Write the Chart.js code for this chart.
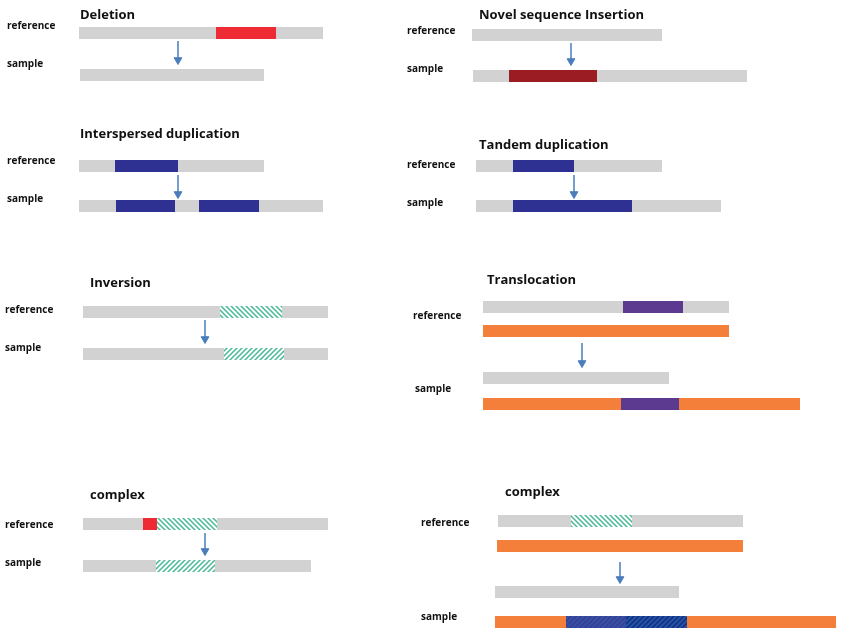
<!DOCTYPE html>
<html lang="en">
<head>
  <meta charset="UTF-8" />
  <title>Structural variant types</title>
  <script src="https://cdn.jsdelivr.net/npm/chart.js"></script>
  <style>
    html, body { margin: 0; padding: 0; background: #fff; }
    .wrap { width: 850px; height: 630px; }
  </style>
</head>
<body>
  <div class="wrap"><canvas id="svChart" width="850" height="630"></canvas></div>

  <script>
    // panel titles
    const panelTitles = ['Deletion', 'Novel sequence Insertion', 'Interspersed duplication', 'Tandem duplication',
                         'Inversion', 'Translocation', 'complex', 'complex'];
    const titleX = [80, 479, 80, 479, 90, 487, 90, 505];
    const titleY = [15, 15, 134, 145, 283, 280, 495, 492];

    // row labels (reference / sample)
    const rowLabels = ['reference', 'sample', 'reference', 'sample', 'reference', 'sample', 'reference', 'sample',
                       'reference', 'sample', 'reference', 'sample', 'reference', 'sample', 'reference', 'sample'];
    const rowX = [7, 7, 407, 407, 7, 7, 407, 407, 5, 5, 413, 415, 5, 5, 421, 421];
    const rowY = [26, 64, 31, 69, 161, 199, 165, 203, 310, 348, 316, 389, 525, 563, 523, 617];

    // segments: start, end, track position, kind
    const segStart = [79, 216, 80,   472, 473, 509,   79, 115, 79, 116, 199,   476, 513, 476, 513,
                      83, 220, 83, 224,   483, 623, 483, 483, 483, 621,
                      83, 143, 157, 83, 156,   498, 571, 497, 495, 495, 566, 626];
    const segEnd   = [323, 276, 264,  662, 747, 597,  264, 178, 323, 175, 259,  662, 574, 721, 632,
                      328, 282, 328, 284,  729, 683, 729, 669, 800, 679,
                      328, 157, 217, 311, 215,  743, 632, 743, 679, 836, 626, 687];
    const segTrack = [33, 33, 75,     35, 76, 76,     166, 166, 206, 206, 206,  166, 166, 206, 206,
                      312, 312, 354, 354,  307, 307, 331, 378, 404, 404,
                      524, 524, 524, 566, 566,  521, 521, 546, 592, 622, 622, 622];
    const segKind  = ['grey', 'red', 'grey',  'grey', 'grey', 'darkred',
                      'grey', 'blue', 'grey', 'blue', 'blue',  'grey', 'blue', 'grey', 'blue',
                      'grey', 'hatchBack', 'grey', 'hatchFwd',
                      'grey', 'purple', 'orange', 'grey', 'orange', 'purple',
                      'grey', 'red', 'hatchBack', 'grey', 'hatchFwd',
                      'grey', 'hatchBack', 'orange', 'grey', 'orange', 'blueHatchA', 'blueHatchB'];

    // arrows: x, from, to
    const arrowX  = [178, 571, 178, 574, 205, 582, 205, 620];
    const arrowY0 = [41, 43, 175, 175, 320, 343, 533, 562];
    const arrowY1 = [60, 61, 194, 194, 339, 363, 551, 579];

    function hatch(bg, line, forward) {
      const n = 5;
      const c = document.createElement('canvas');
      c.width = n; c.height = n;
      const g = c.getContext('2d');
      g.fillStyle = bg;
      g.fillRect(0, 0, n, n);
      g.strokeStyle = line;
      g.lineWidth = 1.5;
      g.beginPath();
      for (let k = -n; k <= n; k += n) {
        if (forward) {
          g.moveTo(k - 1, n + 1); g.lineTo(k + n + 1, -1);
        } else {
          g.moveTo(k - 1, -1); g.lineTo(k + n + 1, n + 1);
        }
      }
      g.stroke();
      return g.createPattern(c, 'repeat');
    }

    const ctx = document.getElementById('svChart').getContext('2d');

    const colors = {
      grey: '#d2d2d2',
      red: '#ee2b35',
      darkred: '#9b1c22',
      blue: '#2e3192',
      purple: '#5c3a8f',
      orange: '#f47f3b',
      hatchBack: hatch('#ffffff', '#45b995', false),
      hatchFwd: hatch('#ffffff', '#45b995', true),
      blueHatchA: hatch('#3b3e97', '#3158a6', true),
      blueHatchB: hatch('#2352a6', '#122f7e', true)
    };
    const arrowColor = '#4a7dbb';

    const datasets = segStart.map((s, i) => ({
      data: [{ x: s, y: segTrack[i] }, { x: segEnd[i], y: segTrack[i] }],
      showLine: true,
      borderColor: colors[segKind[i]],
      borderWidth: 12,
      borderCapStyle: 'butt',
      pointRadius: 0,
      order: 1000 - i
    }));

    arrowX.forEach((x, i) => {
      datasets.push({
        data: [{ x: x, y: arrowY0[i] }, { x: x, y: arrowY1[i] }],
        showLine: true,
        borderColor: arrowColor,
        borderWidth: 1.5,
        pointRadius: [0, 4.5],
        pointStyle: 'triangle',
        rotation: 180,
        pointBackgroundColor: arrowColor,
        pointBorderColor: arrowColor,
        pointBorderWidth: 1,
        order: 0
      });
    });

    const textPlugin = {
      id: 'svText',
      afterDraw(chart) {
        const c = chart.ctx;
        const sx = chart.scales.x, sy = chart.scales.y;
        c.save();
        c.fillStyle = '#111';
        c.textBaseline = 'middle';
        c.textAlign = 'left';
        c.font = 'bold 13px "Open Sans", sans-serif';
        panelTitles.forEach((t, i) => {
          c.fillText(t, sx.getPixelForValue(titleX[i]), sy.getPixelForValue(titleY[i]));
        });
        c.font = 'bold 10px "Open Sans", sans-serif';
        rowLabels.forEach((t, i) => {
          c.fillText(t, sx.getPixelForValue(rowX[i]), sy.getPixelForValue(rowY[i]));
        });
        c.restore();
      }
    };

    new Chart(ctx, {
      type: 'scatter',
      data: { datasets: datasets },
      options: {
        responsive: false,
        animation: false,
        layout: { padding: 0, autoPadding: false },
        scales: {
          x: { type: 'linear', min: 0, max: 850, display: false },
          y: { type: 'linear', min: 0, max: 630, reverse: true, display: false }
        },
        plugins: {
          legend: { display: false },
          tooltip: { enabled: false }
        }
      },
      plugins: [textPlugin]
    });
  </script>
</body>
</html>
